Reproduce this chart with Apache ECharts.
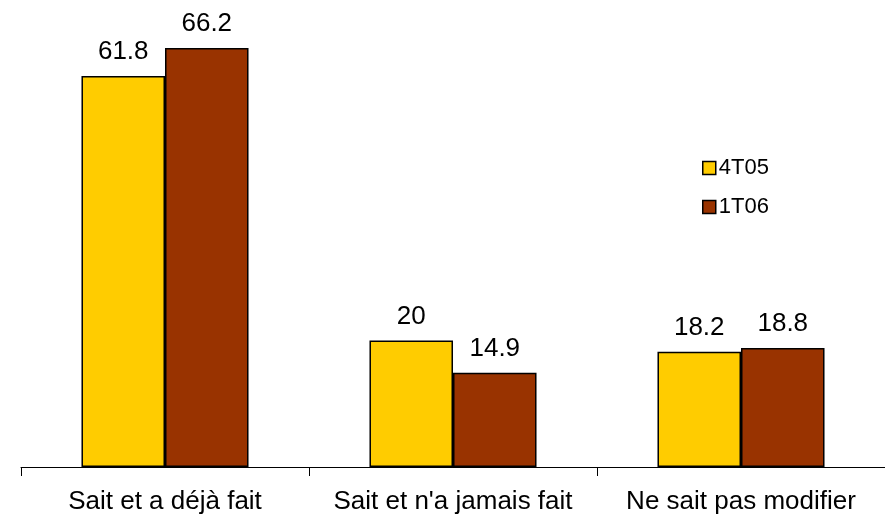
<!DOCTYPE html>
<html>
<head>
<meta charset="utf-8">
<script src="https://cdn.jsdelivr.net/npm/echarts@6/dist/echarts.min.js"></script>
<style>
  html, body { margin: 0; padding: 0; background: #fff; }
  #main { width: 885px; height: 521px; }
</style>
</head>
<body>
<div id="main"></div>
<script>
  const categories = ["Sait et a déjà fait", "Sait et n'a jamais fait", "Ne sait pas modifier"];
  const seriesNames = ["4T05", "1T06"];
  const values4T05 = [61.8, 20, 18.2];
  const values1T06 = [66.2, 14.9, 18.8];
  const colors = ["#FFCC00", "#993300"];

  const chart = echarts.init(document.getElementById("main"));

  function barSeries(name, data, color) {
    return {
      name: name,
      type: "bar",
      data: data,
      barGap: "0%",
      barCategoryGap: "42%",
      itemStyle: { color: color, borderColor: "#000", borderWidth: 1.5 },
      label: {
        show: true,
        position: "top",
        distance: 11,
        color: "#000",
        fontSize: 26,
        fontFamily: "Liberation Sans, Arial, sans-serif"
      }
    };
  }

  chart.setOption({
    animation: false,
    textStyle: { fontFamily: "Liberation Sans, Arial, sans-serif" },
    grid: { left: 21, right: -7, top: 24, bottom: 54 },
    legend: {
      orient: "vertical",
      left: 697,
      top: 152,
      icon: "rect",
      itemWidth: 13,
      itemHeight: 13,
      itemGap: 17,
      data: seriesNames,
      itemStyle: { borderColor: "#000", borderWidth: 1.5 },
      textStyle: { fontSize: 22, color: "#000", padding: [0, 0, 0, -2] }
    },
    xAxis: {
      type: "category",
      data: categories,
      axisLine: { lineStyle: { color: "#000", width: 1 } },
      axisTick: { show: true, length: 9, alignWithLabel: false, lineStyle: { color: "#000" } },
      axisLabel: { color: "#000", fontSize: 26, margin: 22, interval: 0, hideOverlap: false }
    },
    yAxis: {
      type: "value",
      min: 0,
      max: 70,
      show: false
    },
    series: [
      barSeries(seriesNames[0], values4T05, colors[0]),
      barSeries(seriesNames[1], values1T06, colors[1])
    ]
  });
</script>
</body>
</html>
